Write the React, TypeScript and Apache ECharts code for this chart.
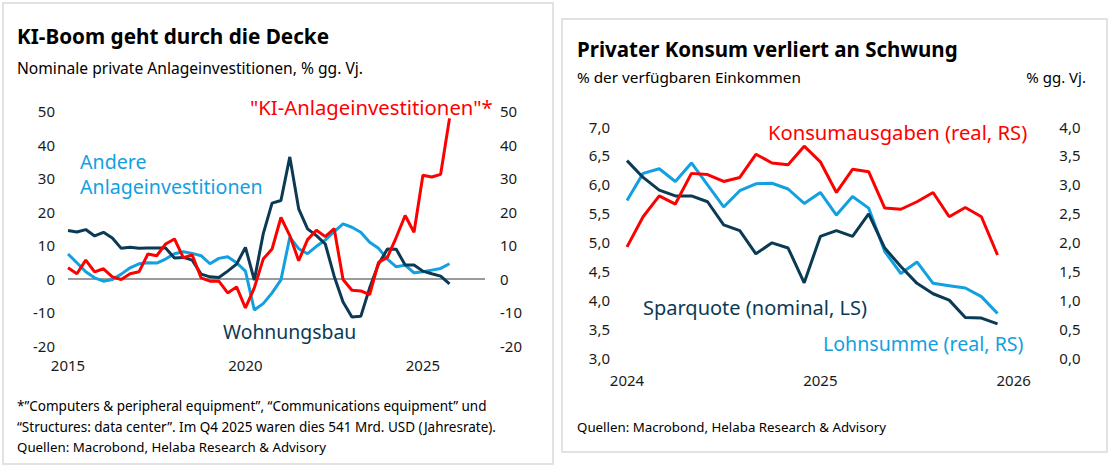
import React, { useEffect, useRef } from "react";
import * as echarts from "echarts";

const FONT = "'Noto Sans', 'DejaVu Sans', sans-serif";
const RED = "#ff0000";
const NAVY = "#0b3a55";
const BLUE = "#12a0e0";
const TXT = "#1a1a1a";

// Left chart: quarterly, 2015 Q1 .. 2025 Q4
const leftStartYear = 2015;
const leftXTicks = [2015, 2020, 2025];
const leftYTicks = [-20, -10, 0, 10, 20, 30, 40, 50];
const wohnungsbau = [14.3, 13.9, 14.6, 12.7, 13.8, 12.1, 9.0, 9.3, 9.0, 9.1, 9.1, 9.1, 6.1, 6.3, 5.5, 1.3, 0.5, 0.3, 2.2, 4.3, 9.3, -0.5, 13.3, 22.5, 23.3, 36.3, 20.8, 14.8, 12.8, 10.3, 0.7, -7.0, -11.5, -11.3, -2.8, 4.3, 8.8, 8.7, 4.0, 4.0, 2.2, 1.4, 0.7, -1.6];
const andere = [7.3, 4.7, 2.0, 0.2, -0.8, -0.3, 1.3, 3.2, 4.4, 4.7, 4.6, 5.8, 7.4, 8.0, 7.5, 6.8, 4.4, 6.0, 6.5, 4.7, 2.2, -9.4, -7.5, -4.3, -0.4, 12.3, 8.9, 7.4, 9.6, 11.5, 14.0, 16.3, 15.3, 13.8, 10.8, 9.0, 5.8, 3.5, 4.0, 1.7, 2.0, 2.5, 3.0, 4.4];
const kiInvest = [3.2, 1.4, 5.5, 2.0, 2.9, 0.5, -0.3, 1.4, 2.0, 7.3, 6.8, 10.3, 11.8, 6.2, 7.0, 0.2, -0.8, -0.8, -4.3, -2.5, -8.8, -2.8, 5.8, 8.8, 18.2, 12.8, 5.3, 11.6, 14.4, 12.5, 14.9, -0.3, -3.5, -3.7, -4.8, 4.8, 6.3, 12.3, 18.8, 13.8, 30.8, 30.3, 31.1, 47.8];

// Right chart: monthly, Jan 2024 .. Dec 2025
const rightStartYear = 2024;
const rightXTicks = [2024, 2025, 2026];
const sparquote = [6.41, 6.12, 5.9, 5.8, 5.8, 5.7, 5.3, 5.2, 4.8, 4.99, 4.9, 4.3, 5.1, 5.2, 5.1, 5.49, 4.9, 4.58, 4.29, 4.11, 4.0, 3.7, 3.69, 3.59];
const lohnsumme = [2.72, 3.19, 3.27, 3.05, 3.37, 2.99, 2.61, 2.89, 3.01, 3.02, 2.92, 2.67, 2.86, 2.47, 2.79, 2.59, 1.84, 1.46, 1.66, 1.29, 1.25, 1.21, 1.06, 0.77];
const konsum = [1.92, 2.44, 2.8, 2.66, 3.19, 3.17, 3.05, 3.12, 3.52, 3.37, 3.34, 3.66, 3.39, 2.86, 3.26, 3.22, 2.59, 2.57, 2.7, 2.86, 2.44, 2.6, 2.44, 1.78];

const q = (arr: number[]) => arr.map((v, i) => [leftStartYear + i / 4, v]);
const m = (arr: number[]) => arr.map((v, i) => [rightStartYear + i / 12, v]);
const comma = (v: number) => v.toFixed(1).replace(".", ",");

function txt(text: string, x: number, y: number, size: number, color: string, weight: string = "normal", align: string = "left") {
  return {
    type: "text",
    silent: true,
    style: {
      text, x, y, fill: color, fontSize: size, fontFamily: FONT, fontWeight: weight,
      align, verticalAlign: "middle", textAlign: align, textVerticalAlign: "middle",
    },
  };
}

const lineSeries = (name: string, data: number[][], color: string, xi: number, yi: number, extra: any = {}) => ({
  name, type: "line", data, xAxisIndex: xi, yAxisIndex: yi, symbol: "none", showSymbol: false,
  lineStyle: { color, width: 3 }, itemStyle: { color }, silent: true, z: 3, ...extra,
});

export default function App() {
  const ref = useRef<HTMLDivElement>(null);
  useEffect(() => {
    const chart = echarts.init(ref.current!, null, { renderer: "svg" });
    const labelStyle = { color: TXT, fontSize: 15, fontFamily: FONT };
    const option: any = {
      animation: false,
      backgroundColor: "#ffffff",
      grid: [
        { left: 68, top: 111, right: 1114 - 485, bottom: 469 - 345.5 },
        { left: 627, top: 126.5, right: 1114 - 1052.3, bottom: 469 - 358 },
      ],
      xAxis: [
        {
          type: "value", gridIndex: 0, min: 2015, max: 2026.75, interval: 5,
          axisLine: { show: false }, axisTick: { show: false }, splitLine: { show: false },
          axisLabel: { ...labelStyle, margin: 12, formatter: (v: number) => (leftXTicks.includes(v) ? String(v) : "") },
        },
        {
          type: "value", gridIndex: 1, min: 2024, max: 2026.2, interval: 1,
          axisLine: { show: false }, axisTick: { show: false }, splitLine: { show: false },
          axisLabel: { ...labelStyle, margin: 14, formatter: (v: number) => (rightXTicks.includes(v) ? String(v) : "") },
        },
      ],
      yAxis: [
        {
          type: "value", gridIndex: 0, min: -20, max: 50, interval: 10, position: "left",
          axisLine: { show: false }, axisTick: { show: false }, splitLine: { show: false },
          axisLabel: { ...labelStyle, margin: 13, formatter: (v: number) => (leftYTicks.includes(v) ? String(v) : "") },
        },
        {
          type: "value", gridIndex: 0, min: -20, max: 50, interval: 10, position: "right",
          axisLine: { show: false }, axisTick: { show: false }, splitLine: { show: false },
          axisLabel: { ...labelStyle, margin: 15, formatter: (v: number) => (leftYTicks.includes(v) ? String(v) : "") },
        },
        {
          type: "value", gridIndex: 1, min: 3, max: 7, interval: 0.5, position: "left",
          axisLine: { show: false }, axisTick: { show: false }, splitLine: { show: false },
          axisLabel: { ...labelStyle, margin: 17, formatter: comma },
        },
        {
          type: "value", gridIndex: 1, min: 0, max: 4, interval: 0.5, position: "right",
          axisLine: { show: false }, axisTick: { show: false }, splitLine: { show: false },
          axisLabel: { ...labelStyle, margin: 7, formatter: comma },
        },
      ],
      series: [
        lineSeries("Andere Anlageinvestitionen", q(andere), BLUE, 0, 0, {
          markLine: {
            silent: true, symbol: ["none", "none"], label: { show: false },
            lineStyle: { color: "#7a7a7a", width: 1.5, type: "solid" },
            data: [{ yAxis: 0 }], z: 1,
          },
        }),
        lineSeries("Wohnungsbau", q(wohnungsbau), NAVY, 0, 0),
        lineSeries("KI-Anlageinvestitionen", q(kiInvest), RED, 0, 0),
        lineSeries("Lohnsumme (real, RS)", m(lohnsumme), BLUE, 1, 3),
        lineSeries("Sparquote (nominal, LS)", m(sparquote), NAVY, 1, 2),
        lineSeries("Konsumausgaben (real, RS)", m(konsum), RED, 1, 3),
      ],
      graphic: [
        { type: "rect", silent: true, shape: { x: 3, y: 3, width: 550, height: 461 }, style: { fill: "none", stroke: "#e2e2e2", lineWidth: 2 } },
        { type: "rect", silent: true, shape: { x: 562, y: 19, width: 545, height: 433 }, style: { fill: "none", stroke: "#e2e2e2", lineWidth: 2 } },
        txt("KI-Boom geht durch die Decke", 17, 36, 20.7, "#000", "bold"),
        txt("Nominale private Anlageinvestitionen, % gg. Vj.", 17, 68, 15.6, "#000"),
        txt("\"KI-Anlageinvestitionen\"*", 250, 107, 20.3, RED),
        txt("Andere", 80, 161, 19.6, BLUE),
        txt("Anlageinvestitionen", 80, 186.5, 19.6, BLUE),
        txt("Wohnungsbau", 223, 331, 19.4, NAVY),
        txt("*\u201DComputers & peripheral equipment\u201D, \u201CCommunications equipment\u201D und", 17, 406, 13.5, "#000"),
        txt("\u201CStructures: data center\u201D. Im Q4 2025 waren dies 541 Mrd. USD (Jahresrate).", 17, 426.5, 13.5, "#000"),
        txt("Quellen: Macrobond, Helaba Research & Advisory", 17, 447, 13.3, "#000"),
        txt("Privater Konsum verliert an Schwung", 577, 49, 20.5, "#000", "bold"),
        txt("% der verfügbaren Einkommen", 577, 77, 15.3, "#000"),
        txt("% gg. Vj.", 1086, 77, 15, "#000", "normal", "right"),
        txt("Konsumausgaben (real, RS)", 768, 132, 20.2, RED),
        txt("Sparquote (nominal, LS)", 643, 307, 20, NAVY),
        txt("Lohnsumme (real, RS)", 823, 343, 19.6, BLUE),
        txt("Quellen: Macrobond, Helaba Research & Advisory", 577, 427, 13.3, "#000"),
      ],
    };
    chart.setOption(option);
    return () => chart.dispose();
  }, []);
  return (
    <div
      ref={ref}
      style={{ position: "fixed", left: 0, top: 0, width: 1114, height: 469, background: "#fff" }}
    />
  );
}
